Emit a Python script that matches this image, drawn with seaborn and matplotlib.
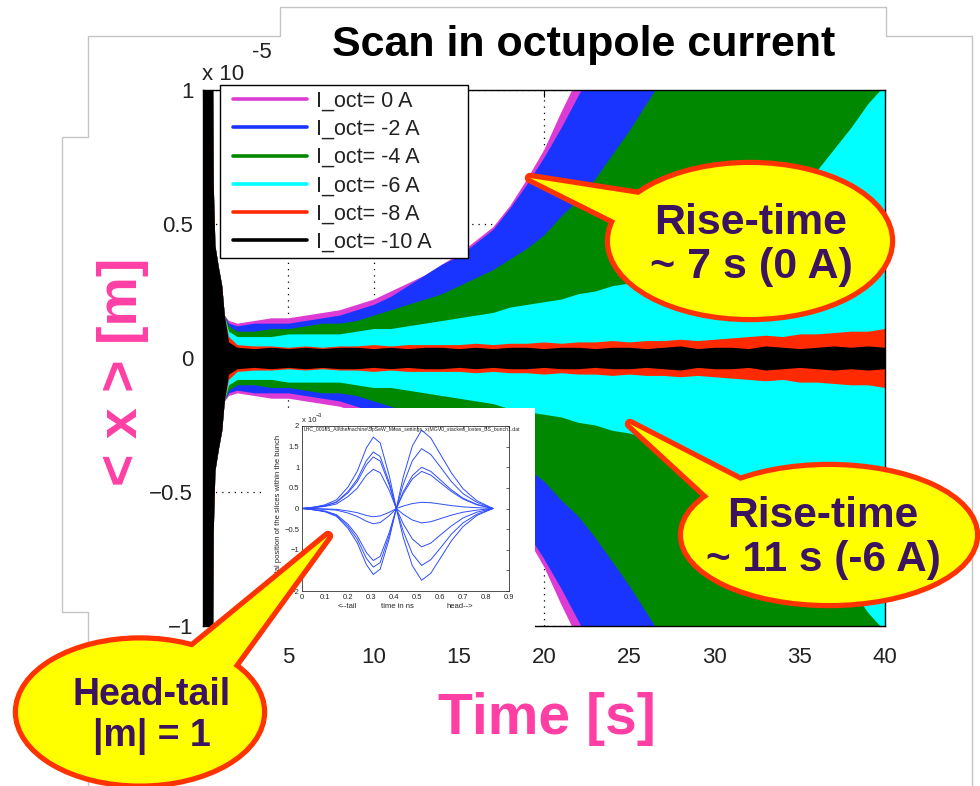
import numpy as np
import pandas as pd
import matplotlib
matplotlib.use("Agg")
import matplotlib.pyplot as plt
import seaborn as sns
from matplotlib.patches import Ellipse, Polygon, Rectangle
from matplotlib.lines import Line2D

# ---------------- data ----------------
series_labels = ["I_oct= 0 A", "I_oct= -2 A", "I_oct= -4 A",
                 "I_oct= -6 A", "I_oct= -8 A", "I_oct= -10 A"]
series_colors = ["#DC3CD4", "#1A34FF", "#008800", "#00FFFF", "#FF2A00", "#000000"]

# common initial kick (t < 1.5 s), envelope amplitude in units of 1e-5 m
kick_time_s = [0.0, 0.55, 0.6, 0.7, 0.9, 1.1, 1.25]
kick_amp = [1.3, 1.3, 0.65, 0.42, 0.34, 0.27, 0.16]

time_s = [1.5, 2, 3, 4, 5, 6, 7, 8, 9, 10, 11, 12, 13, 14, 15, 16, 17, 18, 19, 20,
          21, 22, 23, 24, 25, 26, 27, 28, 29, 30, 31, 32, 33, 34, 35, 36, 37, 38, 39, 40]

env_0A = [0.14, 0.13, 0.14, 0.15, 0.15, 0.16, 0.17, 0.18, 0.20, 0.22, 0.25, 0.28, 0.31, 0.35,
          0.39, 0.44, 0.49, 0.57, 0.67, 0.78, 0.92, 1.05, 1.2, 1.2, 1.2, 1.2, 1.2, 1.2, 1.2,
          1.2, 1.2, 1.2, 1.2, 1.2, 1.2, 1.2, 1.2, 1.2, 1.2, 1.2]
env_m2A = [0.13, 0.12, 0.13, 0.13, 0.13, 0.14, 0.15, 0.16, 0.18, 0.20, 0.23, 0.27, 0.31, 0.35,
           0.38, 0.43, 0.48, 0.56, 0.65, 0.75, 0.86, 0.98, 1.1, 1.2, 1.2, 1.2, 1.2, 1.2, 1.2,
           1.2, 1.2, 1.2, 1.2, 1.2, 1.2, 1.2, 1.2, 1.2, 1.2, 1.2]
env_m4A = [0.12, 0.10, 0.10, 0.11, 0.11, 0.12, 0.13, 0.13, 0.14, 0.16, 0.18, 0.20, 0.22, 0.24,
           0.27, 0.30, 0.33, 0.37, 0.41, 0.46, 0.53, 0.59, 0.67, 0.76, 0.85, 0.95, 1.05, 1.2,
           1.2, 1.2, 1.2, 1.2, 1.2, 1.2, 1.2, 1.2, 1.2, 1.2, 1.2, 1.2]
env_m6A = [0.10, 0.08, 0.08, 0.08, 0.09, 0.09, 0.09, 0.09, 0.10, 0.11, 0.11, 0.12, 0.13, 0.14,
           0.15, 0.16, 0.17, 0.19, 0.20, 0.21, 0.22, 0.24, 0.25, 0.27, 0.28, 0.30, 0.32, 0.34,
           0.37, 0.40, 0.43, 0.47, 0.51, 0.57, 0.63, 0.70, 0.78, 0.86, 0.95, 1.02]
env_m8A = [0.08, 0.05, 0.045, 0.045, 0.04, 0.045, 0.04, 0.045, 0.045, 0.05, 0.045, 0.05, 0.05,
           0.05, 0.05, 0.055, 0.05, 0.055, 0.055, 0.06, 0.055, 0.06, 0.06, 0.065, 0.06, 0.065,
           0.065, 0.07, 0.065, 0.07, 0.075, 0.08, 0.085, 0.08, 0.09, 0.09, 0.095, 0.10, 0.10, 0.11]
env_m10A = [0.06, 0.04, 0.035, 0.04, 0.035, 0.04, 0.035, 0.04, 0.04, 0.035, 0.04, 0.035, 0.04,
            0.04, 0.035, 0.04, 0.035, 0.04, 0.04, 0.035, 0.04, 0.04, 0.035, 0.04, 0.04, 0.035,
            0.04, 0.045, 0.035, 0.04, 0.04, 0.035, 0.045, 0.04, 0.035, 0.04, 0.045, 0.04, 0.045, 0.04]

x_ticks = [0, 5, 10, 15, 20, 25, 30, 35, 40]
y_ticks = [-1, -0.5, 0, 0.5, 1]
y_tick_labels = ["\u22121", "\u22120.5", "0", "0.5", "1"]

# inset: head-tail traces (slice position vs time along the bunch, x 1e-3)
inset_t_ns = [0, 0.05, 0.1, 0.15, 0.2, 0.24, 0.28, 0.31, 0.34, 0.38, 0.41,
              0.44, 0.48, 0.52, 0.56, 0.6, 0.65, 0.7, 0.76, 0.83]
inset_tr1 = [0, 0.03, 0.09, 0.21, 0.52, 0.90, 1.47, 1.73, 1.59, 0.78, 0,
             -0.70, -1.39, -1.74, -1.57, -1.22, -0.78, -0.44, -0.17, 0]
inset_tr2 = [0, -0.03, -0.08, -0.19, -0.48, -0.83, -1.36, -1.60, -1.47, -0.72, 0,
             0.76, 1.52, 1.90, 1.71, 1.33, 0.86, 0.48, 0.19, 0]
inset_tr3 = [0, 0.03, 0.07, 0.16, 0.41, 0.71, 1.16, 1.37, 1.26, 0.62, 0,
             -0.55, -1.10, -1.38, -1.24, -0.97, -0.62, -0.35, -0.14, 0]
inset_tr4 = [0, -0.03, -0.07, -0.17, -0.43, -0.74, -1.21, -1.42, -1.31, -0.64, 0,
             0.58, 1.16, 1.45, 1.31, 1.02, 0.65, 0.36, 0.15, 0]
inset_tr5 = [0, 0.03, 0.06, 0.15, 0.38, 0.65, 1.06, 1.25, 1.15, 0.56, 0,
             -0.37, -0.74, -0.93, -0.84, -0.65, -0.42, -0.23, -0.09, 0]
inset_tr6 = [0, -0.03, -0.06, -0.15, -0.38, -0.66, -1.07, -1.26, -1.16, -0.57, 0,
             0.40, 0.80, 1.00, 0.90, 0.70, 0.45, 0.25, 0.10, 0]
inset_tr7 = [0, 0.02, 0.05, 0.11, 0.29, 0.49, 0.81, 0.95, 0.87, 0.43, 0,
             0.36, 0.72, 0.90, 0.81, 0.63, 0.41, 0.23, 0.09, 0]
inset_tr8 = [0, -0.01, -0.02, -0.04, -0.11, -0.19, -0.31, -0.37, -0.34, -0.17, 0,
             -0.14, -0.28, -0.35, -0.32, -0.25, -0.16, -0.09, -0.04, 0]
inset_tr9 = [0, 0, -0.01, -0.02, -0.06, -0.10, -0.17, -0.20, -0.18, -0.09, 0,
             0.06, 0.12, 0.15, 0.14, 0.11, 0.07, 0.04, 0.02, 0]

# ---------------- figure ----------------
sns.set_theme(style="white")
plt.rcParams["font.family"] = ["Liberation Sans", "DejaVu Sans"]

W, H = 980, 786
fig = plt.figure(figsize=(W / 100, H / 100), dpi=100)
fig.patch.set_facecolor("white")


def fx(px):
    return px / W


def fy(py):
    return 1 - py / H


def box(x0, y0, x1, y1):
    return [fx(x0), fy(y1), (x1 - x0) / W, (y1 - y0) / H]


# main axes
ax = fig.add_axes(box(203, 90, 885, 626))
ax.set_facecolor("white")
envs = [env_0A, env_m2A, env_m4A, env_m6A, env_m8A, env_m10A]
rows = []
for lab, env in zip(series_labels, envs):
    for t, a in zip(kick_time_s + time_s, kick_amp + env):
        rows.append({"series": lab, "t": t, "amp": a})
df = pd.DataFrame(rows)
for lab, col in zip(series_labels, series_colors):
    d = df[df["series"] == lab]
    ax.fill_between(d["t"], -d["amp"], d["amp"], color=col, lw=0, zorder=2)

ax.set_xlim(0, 40)
ax.set_ylim(-1, 1)
ax.set_xticks(x_ticks)
ax.set_yticks(y_ticks)
ax.set_yticklabels(y_tick_labels)
ax.set_axisbelow(True)
ax.grid(True, linestyle=(0, (1.0, 4.0)), color="black", lw=0.9)
ax.tick_params(axis="both", direction="in", length=5, width=0.8, top=True, right=True,
               labelsize=16, colors="black")
ax.tick_params(axis="x", pad=15)
ax.tick_params(axis="y", pad=7)
for lbl in ax.get_xticklabels() + ax.get_yticklabels():
    lbl.set_color("#222222")
for s in ax.spines.values():
    s.set_color("black")
    s.set_linewidth(1.0)

fig.text(fx(202), fy(74), "x 10", fontsize=16, color="#222222", ha="left", va="center")
fig.text(fx(252), fy(52), "-5", fontsize=16, color="#222222", ha="left", va="center")

# legend (frame drawn separately to match the roomy box)
fig.patches.append(Rectangle((fx(220), fy(258)), (468 - 220) / W, (258 - 85) / H,
                             transform=fig.transFigure, facecolor="white",
                             edgecolor="black", lw=1.0, zorder=4))
handles = [Line2D([0], [0], color=c, lw=2.6) for c in series_colors]
leg = fig.legend(handles, series_labels, loc="upper left",
                 bbox_to_anchor=(fx(220), fy(78)), frameon=False,
                 fontsize=15.5, handlelength=3.45, labelspacing=0.33, borderpad=0.6,
                 handletextpad=0.4, borderaxespad=0)
leg.set_zorder(5)
for t in leg.get_texts():
    t.set_color("#222222")

# title & axis labels
fig.text(fx(584), fy(45), "Scan in octupole current", ha="center", va="center",
         fontsize=31, fontweight="bold", color="black")
fig.text(fx(547), fy(719), "Time [s]", ha="center", va="center",
         fontsize=41, fontweight="bold", color="#FF3FA4")
fig.text(fx(123), fy(372), "< x > [m]", ha="center", va="center", rotation=90,
         fontsize=40, fontweight="bold", color="#FF3FA4")

# ---------------- inset picture ----------------
bg = fig.add_axes(box(265, 408, 535, 628), zorder=3)
bg.set_facecolor("white")
bg.set_xticks([])
bg.set_yticks([])
for s in bg.spines.values():
    s.set_visible(False)

iax = fig.add_axes(box(302, 426, 509, 591), zorder=4)
iax.set_facecolor("white")
traces = [inset_tr1, inset_tr2, inset_tr3, inset_tr4, inset_tr5, inset_tr6,
          inset_tr7, inset_tr8, inset_tr9]
irows = []
for k, tr in enumerate(traces):
    for t, v in zip(inset_t_ns, tr):
        irows.append({"trace": k, "t_ns": t, "pos": v})
idf = pd.DataFrame(irows)
sns.lineplot(data=idf, x="t_ns", y="pos", units="trace", estimator=None,
             color="#2F4DFF", lw=0.7, ax=iax, legend=False)
iax.set_xlim(0, 0.9)
iax.set_ylim(-2, 2)
iax.set_xticks([0, 0.1, 0.2, 0.3, 0.4, 0.5, 0.6, 0.7, 0.8, 0.9])
iax.set_xticklabels(["0", "0.1", "0.2", "0.3", "0.4", "0.5", "0.6", "0.7", "0.8", "0.9"])
iax.set_yticks([-2, -1.5, -1, -0.5, 0, 0.5, 1, 1.5, 2])
iax.set_yticklabels(["\u22122", "\u22121.5", "\u22121", "\u22120.5", "0", "0.5", "1", "1.5", "2"])
iax.tick_params(direction="in", length=2, width=0.5, labelsize=5.5, pad=2,
                top=True, right=True)
iax.set_xlabel("")
iax.set_ylabel("")
for s in iax.spines.values():
    s.set_linewidth(0.6)
    s.set_color("#333333")

fig.text(fx(347), fy(607), "<--tail", fontsize=5.5, ha="center", va="center", zorder=5)
fig.text(fx(397), fy(607), "time in ns", fontsize=5.5, ha="center", va="center", zorder=5)
fig.text(fx(460), fy(607), "head-->", fontsize=5.5, ha="center", va="center", zorder=5)
fig.text(fx(278), fy(508), "ontal position of the slices within the bunch", fontsize=5.5,
         rotation=90, ha="center", va="center", zorder=5)
fig.text(fx(302), fy(421), "x 10", fontsize=5.5, ha="left", va="center", zorder=5)
fig.text(fx(316), fy(416), "\u22123", fontsize=4, ha="left", va="center", zorder=5)
fig.text(fx(304), fy(430),
         r"LHC_00165_All\themachine\SpSeW_Meas_settings_x(MGV0_stacked_lostes_BS_bunch1.dat",
         fontsize=3.7, ha="left", va="center", zorder=5)

# ---------------- overlay: frame outline and callout bubbles ----------------
ov = fig.add_axes([0, 0, 1, 1], zorder=10)
ov.set_xlim(0, W)
ov.set_ylim(H, 0)
ov.axis("off")

ov.plot([88, 88, 62, 62, 88, 88, 280, 280, 886, 886, 972, 972],
        [786, 612, 612, 137, 137, 36, 36, 7, 7, 36, 36, 786],
        color="#C4C4C4", lw=1.0, zorder=0)

RED = "#FF3300"
YEL = "#FFFF00"
PURPLE = "#3C1361"


def bubble(center, w, h, tail, text, fs, text_xy):
    ov.add_patch(Ellipse(center, w, h, facecolor="none", edgecolor=RED, lw=7.5, zorder=1))
    ov.add_patch(Polygon(tail, closed=True, facecolor="none", edgecolor=RED, lw=7.5,
                         joinstyle="round", zorder=1))
    ov.add_patch(Ellipse(center, w, h, facecolor=YEL, edgecolor="none", zorder=2))
    ov.add_patch(Polygon(tail, closed=True, facecolor=YEL, edgecolor="none", zorder=2))
    ov.text(text_xy[0], text_xy[1], text, ha="center", va="center", fontsize=fs,
            fontweight="bold", color=PURPLE, linespacing=1.15, zorder=3)


bubble((750, 241), 280, 152, [(530, 178), (652, 197), (630, 228)],
       "Rise-time\n~ 7 s (0 A)", 31, (751, 245))
bubble((829, 535), 292, 136, [(630, 424), (758, 490), (718, 505)],
       "Rise-time\n~ 11 s (-6 A)", 30.5, (823, 538))
bubble((140, 712), 244, 143, [(328, 536), (188, 651), (232, 668)],
       "Head-tail\n|m| = 1", 27, (152, 716))

fig.savefig("out.png", dpi=100, facecolor="white")
